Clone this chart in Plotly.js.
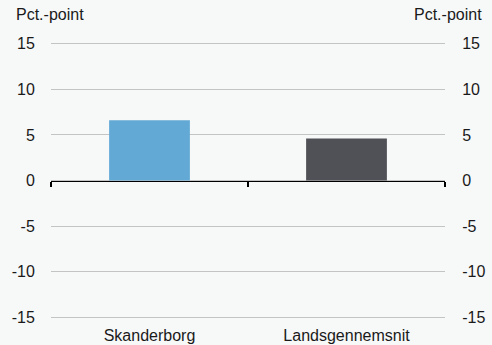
<!DOCTYPE html>
<html><head><meta charset="utf-8">
<script src="https://cdn.plot.ly/plotly-3.0.1.min.js"></script>
<style>html,body{margin:0;padding:0;background:#f7f8f8;}#chart{width:492px;height:345px;}</style>
</head><body><div id="chart"></div>
<script>
var categories = ["Skanderborg", "Landsgennemsnit"];
var values = [6.6, 4.6];
var barColors = ["#63a9d5", "#505156"];
var yTicks = [-15, -10, -5, 0, 5, 10, 15];
var yTitle = "Pct.-point";

var font = {family: "Liberation Sans, Arial, sans-serif", size: 16, color: "#1a1a1a"};
var traces = [
  {type: "bar", x: categories, y: values, marker: {color: barColors}, xaxis: "x", yaxis: "y", hoverinfo: "skip"},
  {type: "bar", x: categories, y: values, marker: {color: barColors}, opacity: 0, xaxis: "x2", yaxis: "y2", hoverinfo: "skip", showlegend: false}
];
var layout = {
  width: 492, height: 345,
  margin: {l: 51, r: 47, t: 41, b: 25},
  paper_bgcolor: "#f7f8f8", plot_bgcolor: "#f7f8f8",
  font: font, showlegend: false, bargap: 0.59,
  xaxis: {type: "category", categoryarray: categories, range: [-0.5, 1.5], anchor: "free", position: 0.5,
          showline: true, linecolor: "#000", linewidth: 1.5, ticks: "outside", tickson: "boundaries",
          ticklen: 5, tickwidth: 1.5, tickcolor: "#000", showticklabels: false, showgrid: false, zeroline: false, fixedrange: true},
  xaxis2: {type: "category", categoryarray: categories, range: [-0.5, 1.5], overlaying: "x", anchor: "y", side: "bottom",
           showline: false, ticks: "outside", ticklen: 1, tickcolor: "rgba(0,0,0,0)", showgrid: false, zeroline: false, tickfont: font},
  yaxis: {range: [-15.3, 15.3], tickvals: yTicks, ticktext: yTicks.map(String), showgrid: true, gridcolor: "#c4c4c4", gridwidth: 1,
          zeroline: false, showline: false, ticks: "outside", ticklen: 12, tickcolor: "rgba(0,0,0,0)", tickfont: font},
  yaxis2: {range: [-15.3, 15.3], tickvals: yTicks, ticktext: yTicks.map(String), overlaying: "y", side: "right", anchor: "x",
           showgrid: false, zeroline: false, showline: false, ticks: "outside", ticklen: 13, tickcolor: "rgba(0,0,0,0)", tickfont: font},
  annotations: [
    {text: yTitle, xref: "paper", yref: "paper", x: -0.094, y: 1.0932, xanchor: "left", yanchor: "middle", showarrow: false, font: font},
    {text: yTitle, xref: "paper", yref: "paper", x: 1.099, y: 1.0932, xanchor: "right", yanchor: "middle", showarrow: false, font: font}
  ]
};
Plotly.newPlot("chart", traces, layout, {staticPlot: true, displayModeBar: false});
</script></body></html>
